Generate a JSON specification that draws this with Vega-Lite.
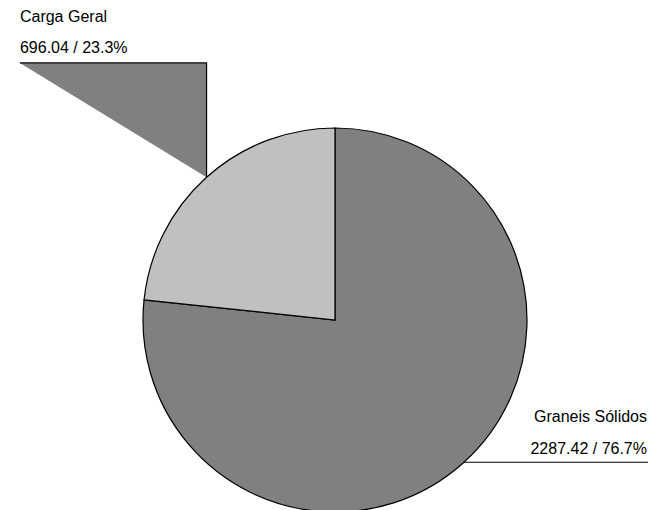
{
  "$schema": "https://vega.github.io/schema/vega-lite/v6.json",
  "width": 662,
  "height": 510,
  "autosize": "none",
  "padding": 0,
  "background": "white",
  "config": {"view": {"stroke": null}, "text": {"font": "Liberation Sans", "fontSize": 16, "color": "#000000"}},
  "datasets": {
    "pie": [
      {"name": "Graneis Sólidos", "value": 2287.42, "detail": "2287.42 / 76.7%", "ord": 1},
      {"name": "Carga Geral", "value": 696.04, "detail": "696.04 / 23.3%", "ord": 2}
    ],
    "wedge": [
      {"x": -1.641, "top": 1.339, "bottom": 1.339},
      {"x": -0.669, "top": 1.339, "bottom": 0.743}
    ],
    "leader1": [
      {"x": -1.641, "y": 1.339, "o": 1},
      {"x": -0.669, "y": 1.339, "o": 2},
      {"x": -0.669, "y": 0.743, "o": 3}
    ],
    "leader2": [
      {"x": 0.669, "y": -0.741, "o": 1},
      {"x": 1.63, "y": -0.741, "o": 2}
    ]
  },
  "layer": [
    {
      "data": {"name": "pie"},
      "mark": {"type": "arc", "outerRadius": 192, "stroke": "#000000", "strokeWidth": 1.2},
      "encoding": {
        "x": {"datum": 0, "type": "quantitative", "scale": {"domain": [-1.7448, 1.7031], "nice": false, "zero": false}, "axis": null},
        "y": {"datum": 0, "type": "quantitative", "scale": {"domain": [-0.9896, 1.6667], "nice": false, "zero": false}, "axis": null},
        "theta": {"field": "value", "type": "quantitative", "stack": true},
        "order": {"field": "ord", "type": "quantitative"},
        "color": {"field": "name", "type": "nominal", "scale": {"domain": ["Graneis Sólidos", "Carga Geral"], "range": ["#808080", "#c0c0c0"]}, "legend": null}
      }
    },
    {
      "data": {"name": "wedge"},
      "mark": {"type": "area", "color": "#808080", "opacity": 1},
      "encoding": {
        "x": {"field": "x", "type": "quantitative", "axis": null},
        "y": {"field": "top", "type": "quantitative", "axis": null},
        "y2": {"field": "bottom"}
      }
    },
    {
      "data": {"name": "leader1"},
      "mark": {"type": "line", "color": "#000000", "strokeWidth": 1.2},
      "encoding": {
        "x": {"field": "x", "type": "quantitative", "axis": null},
        "y": {"field": "y", "type": "quantitative", "axis": null},
        "order": {"field": "o", "type": "quantitative"}
      }
    },
    {
      "data": {"name": "leader2"},
      "mark": {"type": "line", "color": "#000000", "strokeWidth": 1.2},
      "encoding": {
        "x": {"field": "x", "type": "quantitative", "axis": null},
        "y": {"field": "y", "type": "quantitative", "axis": null},
        "order": {"field": "o", "type": "quantitative"}
      }
    },
    {
      "data": {"name": "pie"},
      "transform": [{"filter": "datum.name === 'Carga Geral'"}],
      "layer": [
        {
          "mark": {"type": "text", "align": "left", "baseline": "alphabetic"},
          "encoding": {
            "x": {"datum": -1.641, "type": "quantitative"},
            "y": {"datum": 1.552, "type": "quantitative"},
            "text": {"field": "name"}
          }
        },
        {
          "mark": {"type": "text", "align": "left", "baseline": "alphabetic"},
          "encoding": {
            "x": {"datum": -1.641, "type": "quantitative"},
            "y": {"datum": 1.391, "type": "quantitative"},
            "text": {"field": "detail"}
          }
        }
      ]
    },
    {
      "data": {"name": "pie"},
      "transform": [{"filter": "datum.name === 'Graneis Sólidos'"}],
      "layer": [
        {
          "mark": {"type": "text", "align": "right", "baseline": "alphabetic"},
          "encoding": {
            "x": {"datum": 1.625, "type": "quantitative"},
            "y": {"datum": -0.531, "type": "quantitative"},
            "text": {"field": "name"}
          }
        },
        {
          "mark": {"type": "text", "align": "right", "baseline": "alphabetic"},
          "encoding": {
            "x": {"datum": 1.625, "type": "quantitative"},
            "y": {"datum": -0.698, "type": "quantitative"},
            "text": {"field": "detail"}
          }
        }
      ]
    }
  ]
}
